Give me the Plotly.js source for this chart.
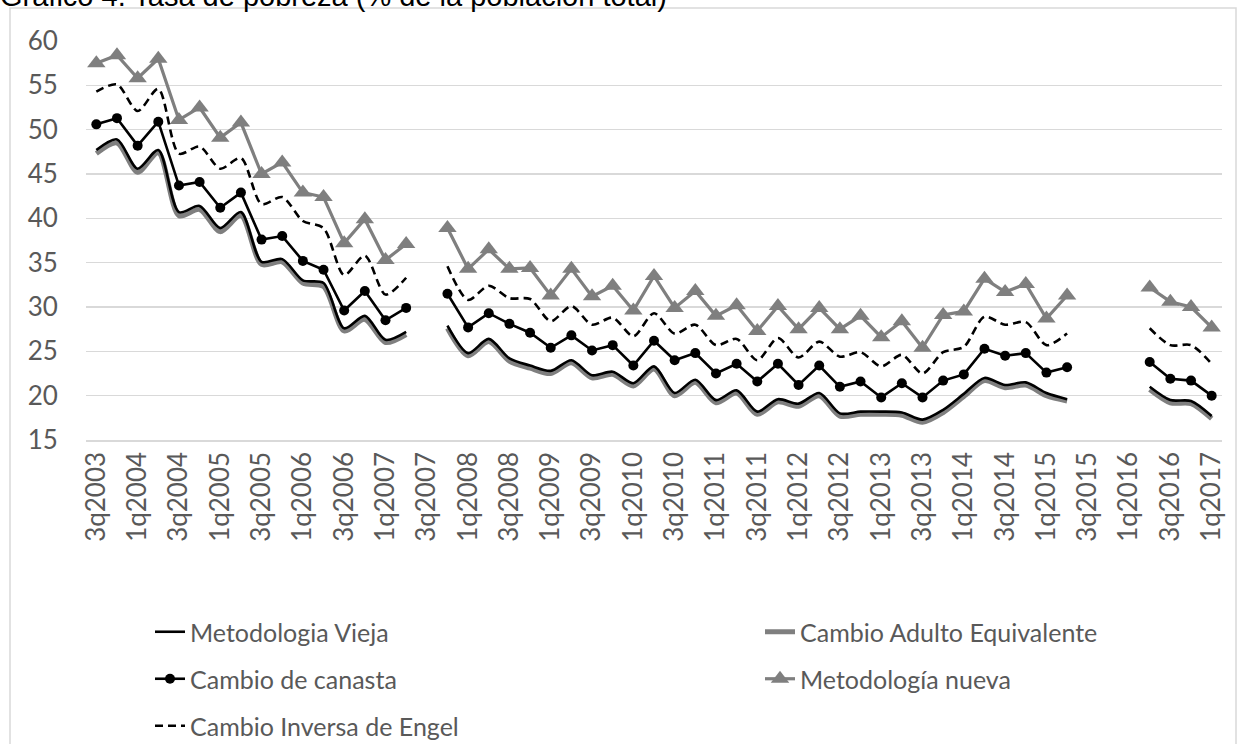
<!DOCTYPE html>
<html>
<head>
<meta charset="utf-8">
<script src="https://cdn.plot.ly/plotly-3.0.1.min.js"></script>
<style>
  html, body { margin: 0; padding: 0; background: #ffffff; }
  #chart { width: 1237px; height: 744px; }
</style>
</head>
<body>
<div id="chart"></div>
<script>
// ---- Data ----
const categories = [
  "3q2003","4q2003","1q2004","2q2004","3q2004","4q2004","1q2005","2q2005",
  "3q2005","4q2005","1q2006","2q2006","3q2006","4q2006","1q2007","2q2007",
  "3q2007","4q2007","1q2008","2q2008","3q2008","4q2008","1q2009","2q2009",
  "3q2009","4q2009","1q2010","2q2010","3q2010","4q2010","1q2011","2q2011",
  "3q2011","4q2011","1q2012","2q2012","3q2012","4q2012","1q2013","2q2013",
  "3q2013","4q2013","1q2014","2q2014","3q2014","4q2014","1q2015","2q2015",
  "3q2015","4q2015","1q2016","2q2016","3q2016","4q2016","1q2017"
];

const metodologiaVieja = [
  47.7, 48.9, 45.6, 47.7, 40.7, 41.4, 38.9, 40.7, 35.1, 35.4, 33.0, 32.7, 27.6, 29.0, 26.3, 27.2, null,
  27.9, 24.8, 26.4, 24.2, 23.4, 22.8, 24.0, 22.3, 22.7, 21.4, 23.3, 20.3, 21.8, 19.5, 20.6, 18.2,
  19.6, 19.1, 20.3, 18.0, 18.2, 18.2, 18.1, 17.3, 18.4, 20.2, 22.0, 21.2, 21.5, 20.3, 19.6,
  null, null, null, 21.0, 19.5, 19.4, 17.7
];

const cambioAdultoEquivalente = [
  47.3, 48.5, 45.2, 47.4, 40.3, 41.0, 38.5, 40.3, 34.8, 35.1, 32.7, 32.3, 27.3, 28.6, 26.0, 26.9, null,
  27.6, 24.5, 26.1, 23.9, 23.1, 22.5, 23.7, 22.0, 22.4, 21.1, 23.0, 20.0, 21.5, 19.2, 20.3, 17.9,
  19.3, 18.8, 20.0, 17.7, 17.9, 17.9, 17.8, 17.0, 18.1, 19.9, 21.7, 20.9, 21.2, 20.0, 19.4,
  null, null, null, 20.7, 19.2, 19.1, 17.4
];

const cambioCanasta = [
  50.6, 51.3, 48.2, 50.9, 43.7, 44.1, 41.2, 42.9, 37.6, 38.0, 35.2, 34.2, 29.6, 31.8, 28.5, 29.9, null,
  31.5, 27.7, 29.3, 28.1, 27.1, 25.4, 26.8, 25.1, 25.7, 23.4, 26.2, 24.0, 24.8, 22.5, 23.6, 21.6,
  23.6, 21.2, 23.4, 21.0, 21.6, 19.8, 21.4, 19.8, 21.7, 22.4, 25.3, 24.5, 24.8, 22.6, 23.2,
  null, null, null, 23.8, 21.9, 21.7, 20.0
];

const metodologiaNueva = [
  57.5, 58.4, 55.8, 58.0, 51.1, 52.5, 49.1, 50.8, 45.0, 46.3, 42.9, 42.4, 37.2, 39.9, 35.3, 37.1, null,
  38.9, 34.3, 36.5, 34.3, 34.4, 31.3, 34.3, 31.2, 32.4, 29.6, 33.5, 29.9, 31.8, 29.0, 30.2, 27.3,
  30.1, 27.5, 29.9, 27.5, 29.0, 26.6, 28.4, 25.4, 29.1, 29.5, 33.2, 31.7, 32.6, 28.7, 31.3,
  null, null, null, 32.2, 30.6, 30.0, 27.7
];

const cambioInversaEngel = [
  54.3, 55.1, 52.1, 54.6, 47.3, 48.1, 45.6, 46.8, 41.6, 42.4, 39.7, 38.9, 33.6, 35.8, 31.4, 33.3, null,
  34.6, 30.8, 32.4, 31.0, 30.9, 28.4, 30.1, 28.0, 28.8, 26.7, 29.3, 27.0, 28.0, 25.7, 26.4, 24.0,
  26.5, 24.3, 26.1, 24.4, 24.9, 23.3, 24.6, 22.5, 24.9, 25.5, 28.9, 28.0, 28.3, 25.7, 27.0,
  null, null, null, 27.6, 25.7, 25.7, 23.6
];

const seriesNames = [
  "Metodologia Vieja",
  "Cambio Adulto Equivalente",
  "Cambio de canasta",
  "Metodología nueva",
  "Cambio Inversa de Engel"
];

const titleText = "Gráfico 4. Tasa de pobreza (% de la población total)";
const yTicks = [15, 20, 25, 30, 35, 40, 45, 50, 55, 60];

// ---- Layout geometry ----
const W = 1237, H = 744;
const M = { l: 86, r: 15, t: 41, b: 304 };
const PW = W - M.l - M.r, PH = H - M.t - M.b;
const px2x = p => (p - M.l) / PW;
const py2y = p => (H - M.b - p) / PH;

const GRAY = "#7f7f7f";
const TXT = "#595959";
const FONT = "Lato, 'Open Sans', sans-serif";

const xTickVals = categories.filter((c, i) => i % 2 === 0);

const traces = [
  {
    x: categories, y: cambioAdultoEquivalente, name: seriesNames[1],
    type: "scatter", mode: "lines", legend: "legend2",
    line: { color: GRAY, width: 5, shape: "spline", smoothing: 0.8 }
  },
  {
    x: categories, y: metodologiaVieja, name: seriesNames[0],
    type: "scatter", mode: "lines", legend: "legend",
    line: { color: "#000000", width: 2.6, shape: "spline", smoothing: 0.8 }
  },
  {
    x: categories, y: cambioCanasta, name: seriesNames[2],
    type: "scatter", mode: "lines+markers", legend: "legend3",
    line: { color: "#000000", width: 2.6 },
    marker: { symbol: "circle", size: 10, color: "#000000" }
  },
  {
    x: categories, y: metodologiaNueva, name: seriesNames[3],
    type: "scatter", mode: "lines+markers", legend: "legend4",
    line: { color: GRAY, width: 3.2 },
    marker: { symbol: "triangle-up", size: 16, color: GRAY }
  },
  {
    x: categories, y: cambioInversaEngel, name: seriesNames[4],
    type: "scatter", mode: "lines", legend: "legend5",
    line: { color: "#000000", width: 2.6, dash: "8px,5px", shape: "spline", smoothing: 0.8 }
  }
];

function legendAt(pxX, pxY) {
  return {
    orientation: "h",
    xref: "container",
    yref: "container",
    xanchor: "left",
    yanchor: "middle",
    x: pxX / W,
    y: 1 - pxY / H,
    bgcolor: "rgba(0,0,0,0)",
    font: { family: FONT, size: 25, color: TXT },
    itemwidth: 30
  };
}

const layout = {
  width: W, height: H,
  margin: M,
  paper_bgcolor: "#ffffff",
  plot_bgcolor: "#ffffff",
  showlegend: true,
  title: {
    text: titleText,
    font: { family: "'Liberation Sans', Arial, sans-serif", size: 29, color: "#000000" },
    x: 0, xref: "container", xanchor: "left",
    y: 1 - 6 / H, yref: "container", yanchor: "bottom"
  },
  xaxis: {
    type: "category",
    categoryorder: "array",
    categoryarray: categories,
    range: [-0.5, categories.length - 0.5],
    tickmode: "array",
    tickvals: xTickVals,
    ticktext: xTickVals,
    tickangle: -90,
    showgrid: false,
    showline: true,
    linecolor: "#d9d9d9",
    linewidth: 1.5,
    ticks: "",
    tickfont: { family: FONT, size: 26, color: TXT },
    zeroline: false,
    fixedrange: true
  },
  yaxis: {
    range: [15, 60],
    tickmode: "array",
    tickvals: yTicks,
    showgrid: true,
    gridcolor: "#d9d9d9",
    gridwidth: 1.5,
    showline: false,
    zeroline: false,
    ticks: "outside",
    ticklen: 22,
    tickcolor: "rgba(0,0,0,0)",
    tickfont: { family: FONT, size: 26, color: TXT },
    fixedrange: true
  },
  legend:  legendAt(150, 632),
  legend2: legendAt(760, 632),
  legend3: legendAt(150, 679),
  legend4: legendAt(760, 679),
  legend5: legendAt(150, 726),
  shapes: [
    {
      type: "rect", xref: "paper", yref: "paper", layer: "below",
      x0: px2x(10), x1: px2x(1236), y0: py2y(760), y1: py2y(8),
      line: { color: "#d9d9d9", width: 1.5 }, fillcolor: "rgba(0,0,0,0)"
    }
  ]
};

Plotly.newPlot("chart", traces, layout, { displayModeBar: false, staticPlot: true });
</script>
</body>
</html>
